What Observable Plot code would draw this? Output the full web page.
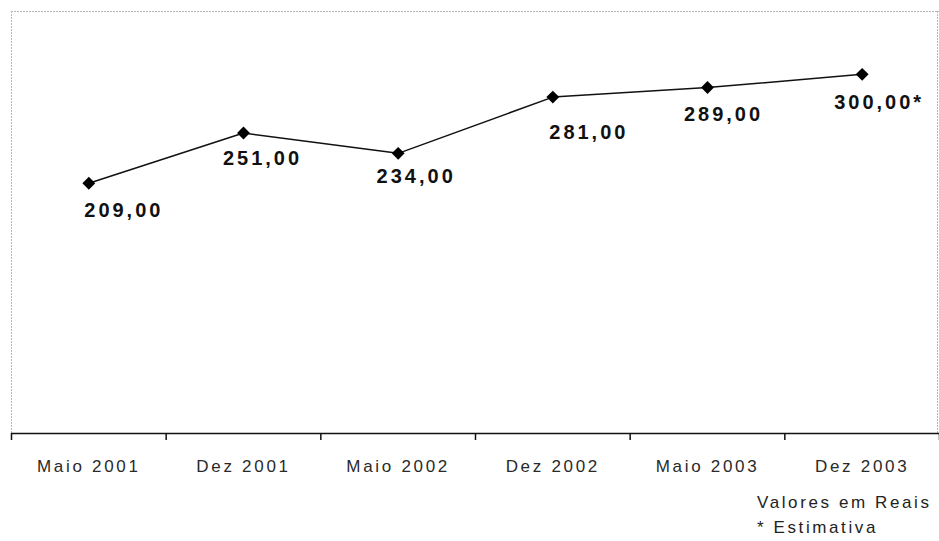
<!DOCTYPE html>
<html>
<head>
<meta charset="utf-8">
<script src="https://cdn.jsdelivr.net/npm/d3@7"></script>
<script src="https://cdn.jsdelivr.net/npm/@observablehq/plot@0.6"></script>
<style>
  body { margin: 0; background: #fff; font-family: "Liberation Sans", Arial, sans-serif; }
  #chart svg { display: block; }
  #chart g[aria-label="x-axis tick label"] text { letter-spacing: 2.7px; }
  #chart g.value-label text { letter-spacing: 3px; }
  #notes {
    margin-left: 757px;
    font-size: 17px;
    letter-spacing: 2.6px;
    line-height: 25px;
    color: #222;
  }
</style>
</head>
<body>
<div id="chart"></div>
<div id="notes">
  <div>Valores em Reais</div>
  <div>* Estimativa</div>
</div>
<script>
// Semester labels along the x axis
const categories = ["Maio 2001", "Dez 2001", "Maio 2002", "Dez 2002", "Maio 2003", "Dez 2003"];
// Values in reais
const values = [209, 251, 234, 281, 289, 300];
// Last value is an estimate (marked with an asterisk)
const estimated = [false, false, false, false, false, true];
// Per-label nudges (pixels) for the value labels
const labelDx = [35, 19, 18, 36, 16, 17];
const labelDy = [27, 26, 23, 35, 27, 28];

const yMax = 352.5;

const brl = d3.formatLocale({decimal: ",", thousands: ".", grouping: [3], currency: ["R$", ""]});
const fmt = brl.format(".2f");

const data = categories.map((c, i) => ({
  pos: i + 0.5,
  category: c,
  value: values[i],
  label: fmt(values[i]) + (estimated[i] ? "*" : "")
}));

const bounds = d3.range(categories.length + 1);

const labelMarks = data.map((d, i) =>
  Plot.text([d], {
    x: "pos",
    y: "value",
    text: "label",
    dx: labelDx[i],
    dy: labelDy[i],
    fontSize: 20,
    fontWeight: "bold",
    fill: "#111",
    className: "value-label"
  })
);

const chart = Plot.plot({
  width: 939,
  height: 490,
  marginLeft: 11,
  marginRight: 0,
  marginTop: 11,
  marginBottom: 57,
  style: {fontFamily: "'Liberation Sans', Arial, sans-serif", background: "#fff"},
  x: {type: "linear", domain: [0, categories.length], axis: null, label: null},
  y: {domain: [0, yMax], axis: null, label: null},
  marks: [
    // light plot-area border on top, left and right
    Plot.ruleY([yMax], {stroke: "#b8b8b8", strokeDasharray: "2,1"}),
    Plot.ruleX([0], {y1: 0, y2: yMax, stroke: "#b8b8b8", strokeDasharray: "2,1"}),
    Plot.ruleX([categories.length], {y1: 0, y2: yMax, dx: -2, stroke: "#b8b8b8", strokeDasharray: "2,1"}),
    // category boundary ticks
    Plot.axisX({
      ticks: bounds,
      tickFormat: () => "",
      tickSize: 7,
      stroke: "#111",
      strokeWidth: 1.5,
      label: null
    }),
    // category names centred in each band
    Plot.axisX({
      ticks: data.map(d => d.pos),
      tickFormat: (v) => categories[Math.floor(v)],
      tickSize: 0,
      tickPadding: 26,
      fontSize: 17,
      fill: "#2a2a2a",
      label: null
    }),
    Plot.ruleY([0], {stroke: "#111", strokeWidth: 1.5}),
    Plot.line(data, {x: "pos", y: "value", stroke: "#111", strokeWidth: 1.5}),
    Plot.dot(data, {x: "pos", y: "value", symbol: "diamond2", r: 5.8, fill: "#000", stroke: "none"}),
    ...labelMarks
  ]
});

document.getElementById("chart").appendChild(chart);
</script>
</body>
</html>
